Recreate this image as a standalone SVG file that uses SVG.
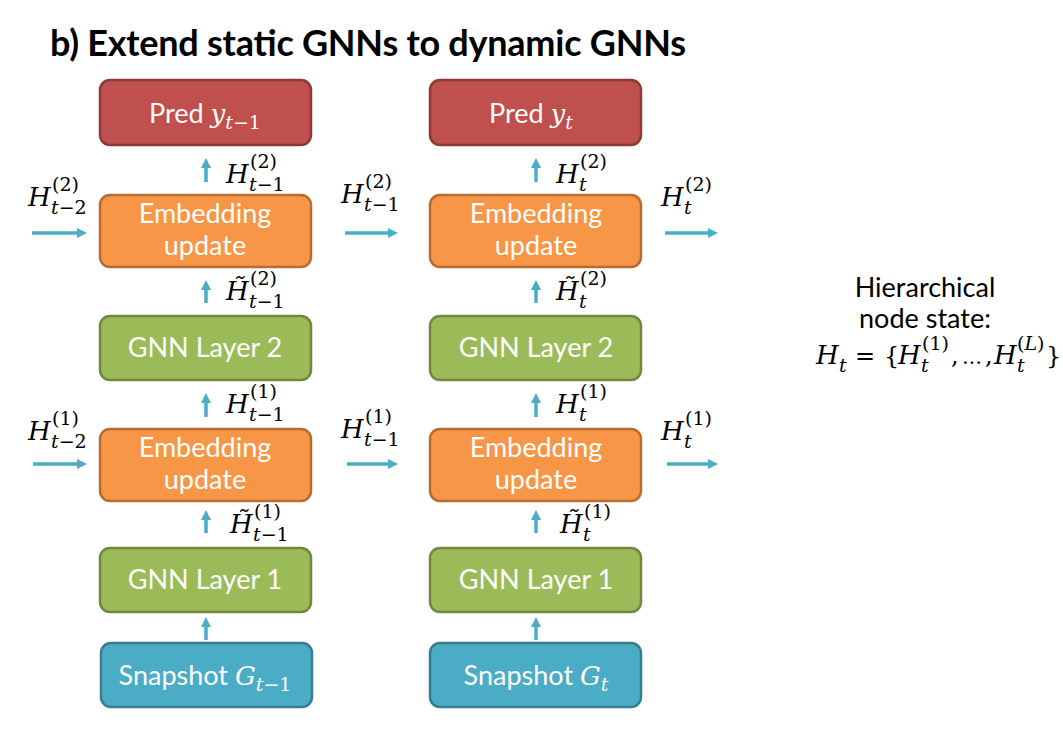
<svg xmlns="http://www.w3.org/2000/svg" width="1063" height="735" viewBox="0 0 1063 735">
<style>
.box{stroke-width:2.5}
.pred{fill:#C0504D;stroke:#8C3A38}
.emb{fill:#F79646;stroke:#B66D31}
.gnn{fill:#9BBB59;stroke:#71893F}
.snap{fill:#4BACC6;stroke:#357D91}
.bt{font-family:Lato,"Open Sans",sans-serif;font-size:27px;fill:#fff;text-anchor:middle}
.mi{font-family:"DejaVu Serif",serif;font-style:italic;font-size:26px;fill:#000}
.ms{font-family:"DejaVu Serif",serif;font-size:19px;fill:#000}
.mu{font-family:"DejaVu Serif",serif;font-size:24px;fill:#000}
.it{font-style:italic}
.w{fill:#fff}
.conn line{stroke:#4BACC6;stroke-width:3.5}
.rt{font-family:Lato,"Open Sans",sans-serif;font-size:27px;fill:#000;text-anchor:middle}
.title{font-family:Lato,"Open Sans",sans-serif;font-weight:bold;font-size:36px;fill:#000}
</style>
<defs>
<marker id="ah" viewBox="0 0 10 10" refX="4" refY="5" markerWidth="10" markerHeight="10" orient="auto" markerUnits="userSpaceOnUse">
<path d="M0,0 L10,5 L0,10 z" fill="#4BACC6"/>
</marker>
</defs>
<rect width="1063" height="735" fill="#fff"/>
<text class="title" x="50" y="56" textLength="636">b) Extend static GNNs to dynamic GNNs</text>

<g id="pred-left"><rect class="box pred" x="100" y="80" width="211" height="65" rx="10"/>
<text class="bt" x="205" y="123">Pred <tspan class="mi w">y</tspan><tspan class="ms w it" dy="6">t</tspan><tspan class="ms w">−1</tspan></text></g>
<g id="emb2-left"><rect class="box emb" x="100" y="195" width="211" height="72" rx="10"/>
<text class="bt" x="205" y="223">Embedding</text><text class="bt" x="205" y="255">update</text></g>
<g id="gnn2-left"><rect class="box gnn" x="100" y="316" width="211" height="64" rx="10"/>
<text class="bt" x="205" y="357">GNN Layer 2</text></g>
<g id="emb1-left"><rect class="box emb" x="100" y="429" width="211" height="72" rx="10"/>
<text class="bt" x="205" y="457">Embedding</text><text class="bt" x="205" y="489">update</text></g>
<g id="gnn1-left"><rect class="box gnn" x="100" y="548" width="211" height="64" rx="10"/>
<text class="bt" x="205" y="589">GNN Layer 1</text></g>
<g id="snap-left"><rect class="box snap" x="101" y="643" width="211" height="64" rx="10"/>
<text class="bt" x="205" y="685">Snapshot <tspan class="mi w">G</tspan><tspan class="ms w it" dy="6">t</tspan><tspan class="ms w">−1</tspan></text></g>

<g id="pred-right"><rect class="box pred" x="430" y="80" width="211" height="65" rx="10"/>
<text class="bt" x="531" y="123">Pred <tspan class="mi w">y</tspan><tspan class="ms w it" dy="6">t</tspan></text></g>
<g id="emb2-right"><rect class="box emb" x="430" y="195" width="211" height="72" rx="10"/>
<text class="bt" x="536" y="223">Embedding</text><text class="bt" x="536" y="255">update</text></g>
<g id="gnn2-right"><rect class="box gnn" x="430" y="316" width="211" height="64" rx="10"/>
<text class="bt" x="536" y="357">GNN Layer 2</text></g>
<g id="emb1-right"><rect class="box emb" x="430" y="429" width="211" height="72" rx="10"/>
<text class="bt" x="536" y="457">Embedding</text><text class="bt" x="536" y="489">update</text></g>
<g id="gnn1-right"><rect class="box gnn" x="430" y="548" width="211" height="64" rx="10"/>
<text class="bt" x="536" y="589">GNN Layer 1</text></g>
<g id="snap-right"><rect class="box snap" x="430" y="643" width="211" height="64" rx="10"/>
<text class="bt" x="536" y="685">Snapshot <tspan class="mi w">G</tspan><tspan class="ms w it" dy="6">t</tspan></text></g>

<g id="connectors" class="conn">
<line x1="206" y1="182" x2="206" y2="164" marker-end="url(#ah)"/>
<line x1="206" y1="303" x2="206" y2="286" marker-end="url(#ah)"/>
<line x1="206" y1="417" x2="206" y2="399" marker-end="url(#ah)"/>
<line x1="206" y1="533" x2="206" y2="516" marker-end="url(#ah)"/>
<line x1="206" y1="640" x2="206" y2="623" marker-end="url(#ah)"/>
<line x1="536" y1="182" x2="536" y2="164" marker-end="url(#ah)"/>
<line x1="536" y1="303" x2="536" y2="286" marker-end="url(#ah)"/>
<line x1="536" y1="417" x2="536" y2="399" marker-end="url(#ah)"/>
<line x1="536" y1="533" x2="536" y2="516" marker-end="url(#ah)"/>
<line x1="536" y1="640" x2="536" y2="623" marker-end="url(#ah)"/>
<line x1="32" y1="233" x2="81" y2="233" marker-end="url(#ah)"/>
<line x1="345" y1="233" x2="392" y2="233" marker-end="url(#ah)"/>
<line x1="665" y1="233" x2="712" y2="233" marker-end="url(#ah)"/>
<line x1="33" y1="464" x2="81" y2="464" marker-end="url(#ah)"/>
<line x1="347" y1="464" x2="392" y2="464" marker-end="url(#ah)"/>
<line x1="667" y1="464" x2="712" y2="464" marker-end="url(#ah)"/>
</g>

<g id="labels">
<text class="mi" x="28" y="206">H</text><text class="ms" x="52" y="191">(2)</text><text class="ms" x="51" y="214"><tspan class="it">t</tspan>−2</text>
<text class="mi" x="226" y="183">H</text><text class="ms" x="250" y="168">(2)</text><text class="ms" x="249" y="191"><tspan class="it">t</tspan>−1</text>
<text class="mi" x="341" y="203">H</text><text class="ms" x="365" y="188">(2)</text><text class="ms" x="364" y="211"><tspan class="it">t</tspan>−1</text>
<text class="mi" x="556" y="183">H</text><text class="ms" x="580" y="168">(2)</text><text class="ms it" x="579" y="191">t</text>
<text class="mi" x="661" y="206">H</text><text class="ms" x="685" y="191">(2)</text><text class="ms it" x="684" y="214">t</text>
<text class="mi" x="226" y="300">H̃</text><text class="ms" x="250" y="285">(2)</text><text class="ms" x="249" y="308"><tspan class="it">t</tspan>−1</text>
<text class="mi" x="556" y="300">H̃</text><text class="ms" x="580" y="285">(2)</text><text class="ms it" x="579" y="308">t</text>

<text class="mi" x="28" y="440">H</text><text class="ms" x="52" y="425">(1)</text><text class="ms" x="51" y="448"><tspan class="it">t</tspan>−2</text>
<text class="mi" x="226" y="413">H</text><text class="ms" x="250" y="398">(1)</text><text class="ms" x="249" y="421"><tspan class="it">t</tspan>−1</text>
<text class="mi" x="341" y="438">H</text><text class="ms" x="365" y="423">(1)</text><text class="ms" x="364" y="446"><tspan class="it">t</tspan>−1</text>
<text class="mi" x="556" y="413">H</text><text class="ms" x="580" y="398">(1)</text><text class="ms it" x="579" y="421">t</text>
<text class="mi" x="661" y="440">H</text><text class="ms" x="685" y="425">(1)</text><text class="ms it" x="684" y="448">t</text>
<text class="mi" x="230" y="533">H̃</text><text class="ms" x="254" y="518">(1)</text><text class="ms" x="253" y="541"><tspan class="it">t</tspan>−1</text>
<text class="mi" x="560" y="533">H̃</text><text class="ms" x="584" y="518">(1)</text><text class="ms it" x="583" y="541">t</text>
</g>

<g id="hier-note">
<text class="rt" x="925" y="297">Hierarchical</text>
<text class="rt" x="925" y="328">node state:</text>
<text class="mi" x="816" y="364">H</text><text class="ms it" x="839" y="372">t</text>
<text class="mu" x="855" y="364">=</text>
<text class="mu" x="884" y="364">{</text>
<text class="mi" x="898" y="364">H</text><text class="ms" x="922" y="350">(1)</text><text class="ms it" x="921" y="372">t</text>
<text class="mu" x="951" y="364">,</text>
<text class="mu" x="962" y="364" style="font-size:20px">…</text>
<text class="mu" x="985" y="364">,</text>
<text class="mi" x="994" y="364">H</text><text class="ms" x="1017" y="350">(<tspan class="it">L</tspan>)</text><text class="ms it" x="1017" y="372">t</text>
<text class="mu" x="1046" y="364">}</text>
</g>
</svg>
